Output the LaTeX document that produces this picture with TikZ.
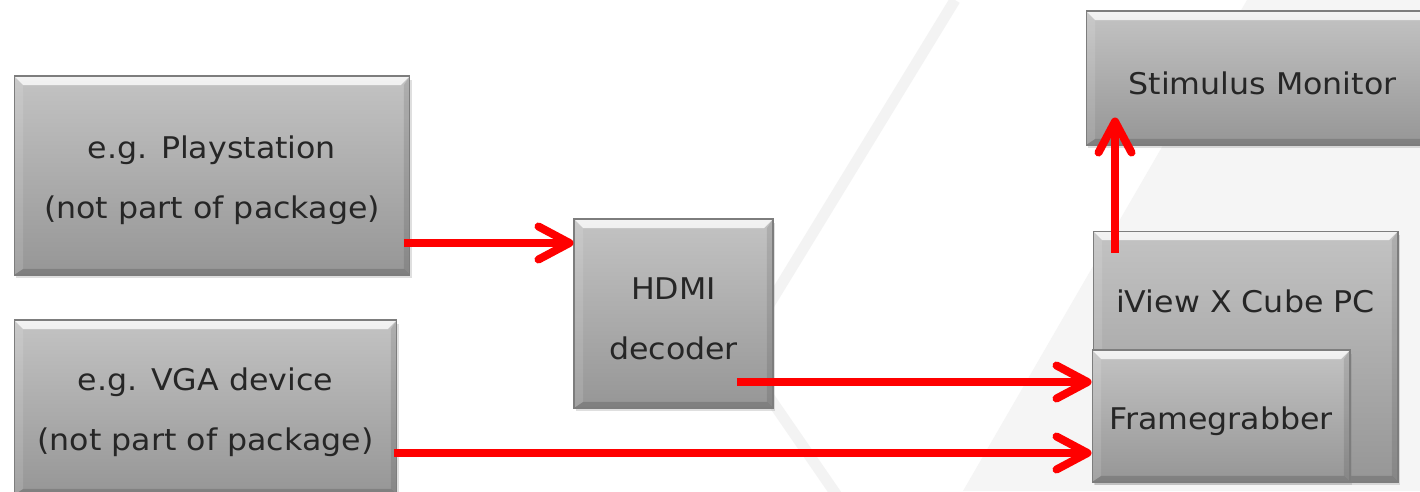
\documentclass[tikz,border=0pt]{standalone}
\usepackage{fontspec}
\setmainfont{DejaVu Sans}[FakeStretch=1.06]
\usepackage{tikz}
\usetikzlibrary{shadows, positioning, arrows.meta}

\definecolor{boxtop}{RGB}{195,195,195}
\definecolor{boxbot}{RGB}{150,150,150}
\definecolor{boxedge}{RGB}{125,125,125}
\definecolor{boxtext}{RGB}{38,38,38}
\definecolor{arrowred}{RGB}{255,0,0}
\definecolor{bgstripe}{RGB}{243,243,243}
\definecolor{bgshade}{RGB}{245,245,245}

\newcommand{\bvl}{0.18cm}
\newcommand{\bvs}{0.12cm}
\newcommand{\lowr}{\rule{0pt}{1.1em}}
\tikzset{bevel/.style={path picture={
  \shade[top color=white, bottom color=boxtop, opacity=.8] (path picture bounding box.north west) -- (path picture bounding box.north east) -- ([shift={(-\bvl,-\bvl)}]path picture bounding box.north east) -- ([shift={(\bvl,-\bvl)}]path picture bounding box.north west) -- cycle;
  \fill[white, opacity=.12] (path picture bounding box.north west) -- ([shift={(\bvl,-\bvl)}]path picture bounding box.north west) -- ([shift={(\bvl,\bvs)}]path picture bounding box.south west) -- (path picture bounding box.south west) -- cycle;
  \fill[black, opacity=.1] (path picture bounding box.north east) -- ([shift={(-\bvs,-\bvl)}]path picture bounding box.north east) -- ([shift={(-\bvs,\bvs)}]path picture bounding box.south east) -- (path picture bounding box.south east) -- cycle;
  \fill[black, opacity=.15] (path picture bounding box.south west) -- ([shift={(\bvl,\bvs)}]path picture bounding box.south west) -- ([shift={(-\bvs,\bvs)}]path picture bounding box.south east) -- (path picture bounding box.south east) -- cycle;
}}}

\begin{document}
\begin{tikzpicture}[x=0.02cm, y=-0.02cm, font=\fontsize{17}{34}\selectfont]
\tikzstyle{hw_box}=[rectangle, draw=boxedge, line width=0.6pt, top color=boxtop, bottom color=boxbot, text=boxtext, align=center, inner sep=0pt, bevel, drop shadow={shadow xshift=0.04cm, shadow yshift=-0.07cm, opacity=0.25}]
\tikzstyle{red_arrow}=[draw=arrowred, line width=0.16cm, -{Straight Barb[length=0.62cm, width=0.66cm, round]}]

% background
\useasboundingbox (0,0) rectangle (1420,491);
\clip (0,0) rectangle (1420,491);
\fill[white] (0,0) rectangle (1420,491);
\fill[bgshade] (1247,0) -- (1420,0) -- (1420,491) -- (963,491) -- cycle;
\draw[bgstripe, line width=0.22cm] (955,0) -- (720,385);
\draw[bgstripe, line width=0.22cm] (745,362) -- (840,500);

\node[hw_box, minimum width=7.92cm, minimum height=3.98cm] (ps) at (212,175.5) {\lowr e.g. Playstation\\(not part of package)};
\node[hw_box, minimum width=7.66cm, minimum height=3.5cm] (vga) at (205.5,407.5) {\lowr e.g. VGA device\\(not part of package)};
\node[hw_box, minimum width=3.98cm, minimum height=3.78cm] (hdmi) at (673.5,313.5) {\lowr HDMI\\decoder};
\node[hw_box, minimum width=7.06cm, minimum height=2.68cm] (stim) at (1262.5,78) {\lowr Stimulus Monitor};
\node[hw_box, minimum width=6.1cm, minimum height=5.02cm, label={[anchor=center, yshift=-1.42cm, text=boxtext]north:iView X Cube PC}] (pc) at (1245.5,356.5) {};
\node[hw_box, minimum width=5.16cm, minimum height=2.64cm] (fg) at (1221,416) {\lowr Framegrabber};

%signal arrows
\draw[red_arrow] ([shift={(-0.12cm,-1.35cm)}]ps.east) coordinate (a1) -- (a1 -| hdmi.west);
\draw[red_arrow] ([shift={(1.27cm,-1.37cm)}]hdmi.center) coordinate (a2) -- (a2 -| fg.west);
\draw[red_arrow] ([shift={(-0.06cm,-0.91cm)}]vga.east) coordinate (a3) -- (a3 -| fg.west);
\draw[red_arrow] ([shift={(-2.61cm,-0.44cm)}]pc.north) coordinate (a4) -- ([yshift=0.56cm]a4 |- stim.south);

\end{tikzpicture}
\end{document}
